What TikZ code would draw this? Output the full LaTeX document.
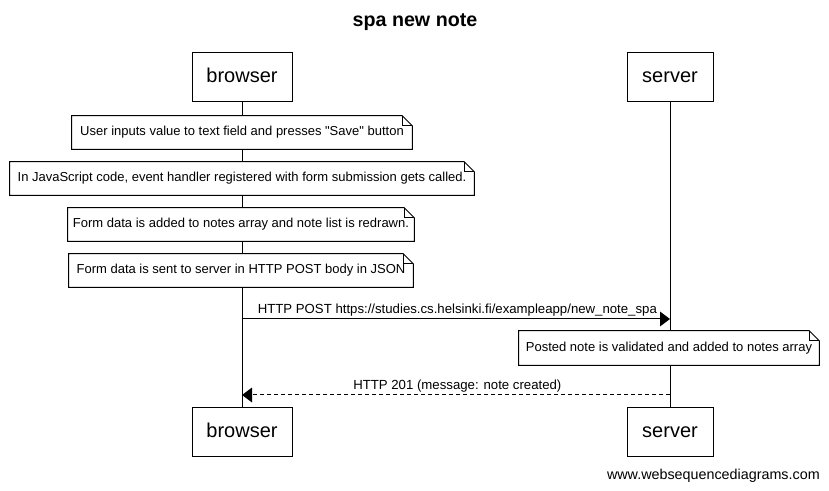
\documentclass[tikz,border=0pt]{standalone}
\usepackage{fontspec}
\setmainfont{Liberation Sans}
\usetikzlibrary{arrows.meta,backgrounds}
\begin{document}
\begin{tikzpicture}[x=0.75pt,y=-0.75pt,
  actor/.style={draw,fill=white,line width=0.75pt,minimum height=36.75pt,inner sep=0pt,text height=11pt,text depth=3.2pt,font=\fontsize{15}{18}\selectfont},
  notebox/.style={fill=white,inner sep=0pt,minimum height=24.75pt,font=\fontsize{9.75}{12}\selectfont},
  noteline/.style={line width=0.75pt},
  lifeline/.style={line width=0.75pt},
  msg/.style={line width=0.75pt,-{Triangle[length=7.5pt,width=11pt]}},
  reply/.style={msg,dash pattern=on 3pt off 2.25pt},
  lbl/.style={font=\fontsize{9.9}{12}\selectfont,inner sep=0pt}]
\useasboundingbox (0,0) rectangle (829,491);
\node[font=\bfseries\fontsize{14.75}{17}\selectfont] (title) at (415,22) {spa new note};
\node[actor,minimum width=75pt] (bA) at (242,77.5) {browser};
\node[actor,minimum width=64.5pt] (sA) at (670,77.5) {server};
\node[actor,minimum width=75pt] (bB) at (242,432.5) {browser};
\node[actor,minimum width=64.5pt] (sB) at (670,432.5) {server};
\begin{scope}[on background layer]
  \draw[lifeline] (bA) -- (bB);
  \draw[lifeline] (sA) -- (sB);
\end{scope}
\node[notebox,minimum width=255pt] (n1) at (242,132.5) {User inputs value to text field and presses \textquotedbl Save\textquotedbl\ button};
\node[notebox,minimum width=348pt] (n2) at (242,178.5) {In JavaScript code, event handler registered with form submission gets called.};
\node[notebox,minimum width=259.5pt] (n3) at (241,224.5) {Form data is added to notes array and note list is redrawn.};
\node[notebox,minimum width=258pt] (n4) at (241,270.5) {Form data is sent to server in HTTP POST body in JSON};
\node[notebox,minimum width=225pt,minimum height=25.5pt] (n5) at (669,348) {Posted note is validated and added to notes array};
\foreach \n in {n1,n2,n3,n4,n5}{
  \draw[noteline] (\n.south west) -- (\n.north west) -- ([xshift=-7.5pt]\n.north east)
    -- ([yshift=-7.5pt]\n.north east) -- (\n.south east) -- cycle;
  \draw[noteline] ([xshift=-7.5pt]\n.north east) -- ([xshift=-7.5pt,yshift=-7.5pt]\n.north east)
    -- ([yshift=-7.5pt]\n.north east);
}
\coordinate (m1a) at (242,319);
\coordinate (m1b) at (670,319);
\coordinate (m2a) at (670,395);
\coordinate (m2b) at (242,395);
\draw[msg] (m1a) -- node[lbl,above=2pt,xshift=1pt] (l1) {HTTP POST https://studies.cs.helsinki.fi/exampleapp/new\_note\_spa} (m1b);
\draw[reply] (m2a) -- node[lbl,above=2pt,xshift=1pt] (l2) {HTTP 201 (message: note created)} (m2b);
\node[font=\fontsize{10.75}{12}\selectfont,anchor=east,inner sep=0pt] (foot) at (820,476) {www.websequencediagrams.com};
\end{tikzpicture}
\end{document}
